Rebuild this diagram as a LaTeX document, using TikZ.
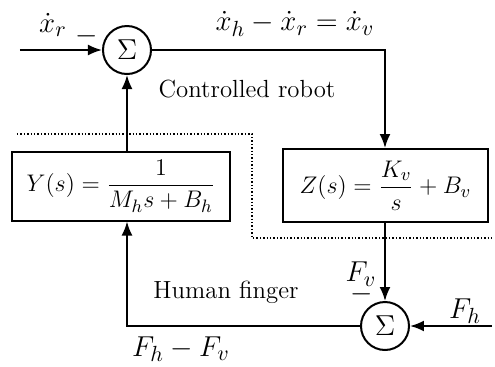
\documentclass[tikz,border=0pt]{standalone}
\usepackage{amsmath}
\usepackage{amssymb}
\usepackage{tikz}
\usetikzlibrary{arrows.meta, positioning}

\begin{document}
\begin{tikzpicture}[x=0.5pt, y=-0.5pt, >={Latex[length=7pt,width=5.5pt]}, line width=1pt,
    font=\fontsize{12.4}{15}\selectfont]
        % styles
        \tikzstyle{block} = [draw, rectangle, inner sep=2pt, align=center]
        \tikzstyle{sum} = [draw, circle, inner sep=0pt, minimum size=24pt, font=\Large]
        \tikzstyle{sig} = [inner sep=1pt, font=\fontsize{15}{18}\selectfont]
        \tikzstyle{coord} = [coordinate]
        \tikzstyle{frame} = [densely dotted, line width=0.7pt]

        \useasboundingbox (0,0) rectangle (495,366);

        % blocks
        \node[sum] (sum1) at (127,50) {$\Sigma$};
        \node[block, minimum width=109pt, minimum height=34.5pt] (Y) at (121,186) {$Y(s)=\dfrac{1}{M_hs+B_h}$};
        \node[block, minimum width=102.5pt, minimum height=36.5pt] (Z) at (385.5,185.5) {$Z(s)=\dfrac{K_v}{s}+B_v$};
        \node[sum] (sum2) at (385,326) {$\Sigma$};

        % free ends
        \node[coord] (input) at (20,50) {};
        \node[coord] (corner) at (385,50) {};
        \node[coord] (force) at (492,326) {};
        \node[coord] (bend) at (127,326) {};

        % labels
        \node[sig] (xr) at (53,25) {$\dot{x}_r$};
        \node[sig] (m1) at (87,36) {$-$};
        \node[sig] (xv) at (295,24) {$\dot{x}_h - \dot{x}_r = \dot{x}_v$};
        \node (robot) at (247,89) {Controlled robot};
        \node (finger) at (226,292) {Human finger};
        \node[sig] (Fv) at (361,274) {$F_v$};
        \node[sig] (m2) at (362,294) {$-$};
        \node[sig] (Fh) at (465,311) {$F_h$};
        \node[sig] (Fhv) at (181,349) {$F_h - F_v$};

        % dotted boundary of the robot
        \node[coord] (d1) at (17,134) {};
        \node[coord] (d2) at (252,134) {};
        \node[coord] (d3) at (252,238) {};
        \node[coord] (d4) at (492,238) {};
        \draw[frame] (d1) -- (d2) -- (d3) -- (d4);

        % connections
        \draw[->] (input) -- (sum1);
        \draw[->] (sum1) -- (corner) -- (Z.north -| corner);
        \draw[->] (Z.south -| sum2) -- (sum2);
        \draw[->] (force) -- (sum2);
        \draw[->] (sum2) -- (bend) -- (Y.south -| bend);
        \draw[->] (Y.north -| sum1) -- (sum1);
\end{tikzpicture}
\end{document}
